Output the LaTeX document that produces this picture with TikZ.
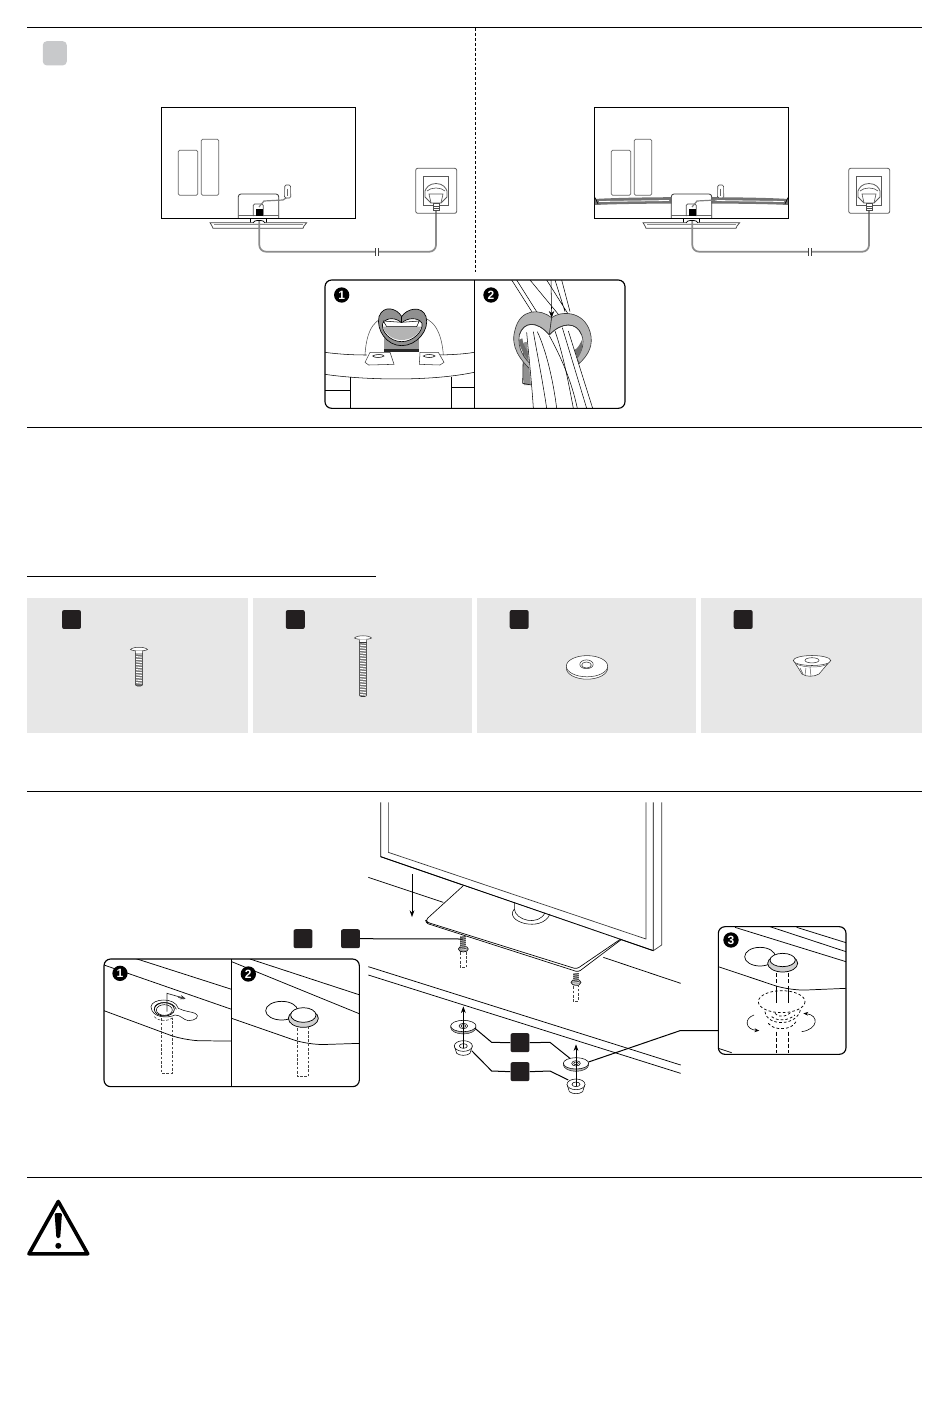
\documentclass[tikz,border=0pt]{standalone}
\usepackage{fontspec}
\setmainfont{Liberation Sans}
\usetikzlibrary{arrows.meta}
\definecolor{panelgray}{HTML}{E7E7E7}
\definecolor{softgray}{HTML}{C8C9CB}
\definecolor{darksq}{HTML}{231F20}
\definecolor{cablegray}{HTML}{8C8C8C}
\definecolor{midgray}{HTML}{B4B4B4}
\definecolor{darkgray2}{HTML}{6E6E6E}
\tikzset{
  rulebar/.style={line width=0.8pt,black},
  thin1/.style={line width=0.55pt,black},
  thin2/.style={line width=0.4pt,black},
  graythin/.style={line width=0.55pt,black!60},
  cable/.style={line width=1.3pt,cablegray,rounded corners=5pt},
  numdot/.style={circle,fill=black,text=white,inner sep=0pt,minimum size=11.5pt,font=\bfseries\fontsize{9}{9}\selectfont},
  darkbox/.style={fill=darksq,rounded corners=1.5pt,inner sep=0pt,minimum width=14.2pt,minimum height=14.2pt},
  lead/.style={line width=0.75pt,black},
  smallarrow/.style={line width=0.55pt,-{Stealth[length=5pt,width=3.6pt]}},
  dashedline/.style={line width=0.45pt,black!75,dash pattern=on 2pt off 1.2pt},
}
\newcommand{\tvrear}[1]{%
  \draw[line width=0.9pt] (161.5,107.5) rectangle (355.5,218.5);
  \draw[graythin,rounded corners=1pt] (178.3,150.3) rectangle (197.7,195.3);
  \draw[graythin,rounded corners=1pt] (201.3,139.3) rectangle (218.7,195.3);
  #1
  \draw[line width=0.6pt,black!80,fill=white,rounded corners=2pt] (238.3,218.5) -- (238.3,194) -- (278.7,194) -- (278.7,218.5);
  \draw[line width=0.5pt,black!60] (238.3,215.5) -- (278.7,215.5);
  \draw[line width=0.5pt,black!70,rounded corners=1pt] (253.3,216) -- (253.3,204) -- (263.3,204) -- (263.3,216);
  \fill[black] (255.5,208.5) rectangle (262.5,215.7);
  \draw[line width=0.9pt,black!50] (259,207) -- (264,201) -- (283,200) -- (287.5,197);
  \draw[line width=0.45pt,black!70,fill=white,rounded corners=1pt] (284.5,198) -- (284.8,185) -- (290.5,185) -- (290.8,198) -- cycle;
  \draw[line width=1pt,black!60] (287.5,188.5) -- (287.5,196);
  \draw[line width=0.9pt] (238.3,218.5) -- (278.7,218.5);
  \draw[thin1] (250,218.7) -- (250,222.5) (266.7,218.7) -- (266.7,222.5);
  \draw[thin1,black!75,fill=white] (210,222.7) -- (306.7,222.7) -- (304,226) -- (303,228.3) -- (213,228.3) -- (212,226) -- cycle;
  \draw[line width=1.3pt,black!45] (214,224.6) -- (303,224.6);
  \draw[thin1,fill=white] (253,222.8) arc[start angle=180,end angle=360,x radius=6,y radius=2.4];
  \draw[cable] (259.3,221) -- (259.3,251.7) -- (436,251.7) -- (436,208);
  \fill[white] (375.6,247) rectangle (377.8,256);
  \draw[line width=0.4pt,black!75] (375.6,248) -- (375.6,256) (377.8,248) -- (377.8,256);
  \draw[line width=0.6pt,black!65,rounded corners=1.5pt] (415.7,168.3) rectangle (456.7,213.3);
  \draw[line width=0.6pt,black!65] (423.3,176) rectangle (448.3,205.3);
  \draw[line width=0.6pt,black!65,fill=white] (436,183.5) .. controls (443,183.5) and (446,188) .. (447,191) -- (447,197) -- (441,203) -- (431,203) -- (425,197) -- (425,191) .. controls (426,188) and (429,183.5) .. (436,183.5) -- cycle;
  \draw[line width=0.5pt,black!65] (427,191) .. controls (431,187) and (441,187) .. (445,191) (431,203) -- (429,194) -- (443,194) -- (441,203);
  \draw[line width=0.6pt,black!70,fill=white] (433,203) rectangle (439,210);
  \draw[line width=0.4pt,black!70] (433,206) -- (439,206) (433,208) -- (439,208);
}
\newcommand{\bolt}[3]{%
  \draw[line width=0.4pt,black!80,fill=black!55,rounded corners=1.5pt] (#1-3.7,#2+5) rectangle (#1+3.7,#3);
  \foreach \yy in {0,1,...,40}{\pgfmathsetmacro\ty{#2+7+\yy*2.6}\pgfmathparse{\ty<(#3-1.5)?1:0}\ifnum\pgfmathresult=1 \draw[line width=0.8pt,white] (#1-2.8,\ty) -- (#1+2.8,\ty+0.6);\fi}
  \draw[line width=0.4pt,black!80,fill=white] (#1-8.5,#2+2.5) .. controls (#1-6,#2-0.5) and (#1+6,#2-0.5) .. (#1+8.5,#2+2.5) .. controls (#1+6,#2+4.4) and (#1-6,#2+4.4) .. (#1-8.5,#2+2.5) -- cycle;
  \draw[line width=0.4pt,black!80,fill=white] (#1-3.8,#2+3.8) -- (#1-3.5,#2+7) -- (#1+3.5,#2+7) -- (#1+3.8,#2+3.8);
}
\newcommand{\fwasher}[2]{%
  \fill[midgray,draw=black,line width=0.3pt] (#1,#2+4) ellipse[x radius=38,y radius=20];
  \draw[thin2,black,fill=white] (#1,#2) ellipse[x radius=38,y radius=17];
  \draw[thin2,fill=white] (#1,#2) ellipse[x radius=13,y radius=8];
  \draw[thin2] (#1,#2) ellipse[x radius=7,y radius=4];
}
\newcommand{\fnut}[2]{%
  \draw[thin2,fill=white] (#1-27,#2-5) -- (#1-20,#2+17) .. controls (#1-10,#2+25) and (#1+10,#2+25) .. (#1+20,#2+17) -- (#1+27,#2-5) -- cycle;
  \draw[thin2,fill=white] (#1,#2-5) ellipse[x radius=27,y radius=16];
  \draw[thin2] (#1,#2-5) ellipse[x radius=12,y radius=7];
}
\newcommand{\threaded}[3]{%
  \fill[black!80] (#1-9,#2) rectangle (#1+9,#3);
  \draw[thin2,black,fill=black!40] (#1,#3-10) ellipse[x radius=15,y radius=9];
  \fill[black!80] (#1-9,#2) rectangle (#1+9,#3-10);
  \foreach \k in {0,1,...,6}{\draw[white,line width=0.5pt] (#1-9,#2+3+\k*6) -- (#1+9,#2+5+\k*6);}
}
\begin{document}
\begin{tikzpicture}[x=0.75pt,y=-0.75pt]
\useasboundingbox (0,0) rectangle (950,1403);
\fill[white] (0,0) rectangle (950,1403);

\draw[rulebar] (27,27.5) -- (922,27.5);
\draw[rulebar] (27,427.5) -- (922,427.5);
\draw[rulebar] (27,791.5) -- (922,791.5);
\draw[rulebar] (27,1177.6) -- (922,1177.6);
\draw[rulebar] (27,576.3) -- (376,576.3);
\draw[line width=0.8pt,dash pattern=on 2.2pt off 1.5pt] (475.2,28) -- (475.2,272);

\node[fill=softgray,rounded corners=3pt,inner sep=0pt,minimum width=18pt,minimum height=18.2pt] (tag) at (54.8,53.3) {};

\tvrear{}
\begin{scope}[shift={(433,0)}]
\tvrear{%
  \fill[black!55] (161.9,199) .. controls (200,196.5) and (320,196.5) .. (355.1,199) -- (355.1,205) .. controls (320,203) and (200,203) .. (161.9,205) -- cycle;
  \draw[white,line width=0.6pt] (166,201.5) -- (236,200.5) (282,200.5) -- (351,201.5);
  \draw[black,line width=0.5pt] (162,197.5) -- (165,204) (355,197.5) -- (352,204);
}
\end{scope}

% cable-clip inset
\begin{scope}[shift={(320,275)},x=0.25pt,y=-0.25pt]
\begin{scope}
\clip[rounded corners=5pt] (15,15) rectangle (915,400);
\draw[thin2] (15,232) .. controls (60,238) and (100,240) .. (140,240);
\draw[thin2] (340,240) .. controls (380,240) and (430,238) .. (462,232);
\draw[thin2] (15,298) .. controls (130,315) and (330,320) .. (462,292);
\draw[thin2] (90,305) -- (90,400) (395,306) -- (395,400);
\draw[thin2] (15,347) -- (90,347) (395,337) -- (462,337);
\draw[thin2,black!70] (135,240) .. controls (138,190) and (150,135) .. (200,125);
\draw[thin2,black!70] (290,125) .. controls (340,125) and (365,170) .. (370,240);
\draw[thin2,black!80,fill=white] (150,232) -- (210,232) -- (222,268) -- (146,270) -- (135,262) -- cycle;
\draw[thin2,black!80,fill=white] (300,232) -- (355,232) -- (372,262) -- (360,270) -- (298,268) -- cycle;
\draw[thin2] (158,243) .. controls (165,237) and (190,237) .. (192,243) .. controls (185,249) and (162,249) .. (158,243) -- cycle;
\draw[thin2] (310,243) .. controls (315,237) and (340,237) .. (345,243) .. controls (340,249) and (315,249) .. (310,243) -- cycle;
\fill[midgray!85!black] (193,180) rectangle (297,222);
\fill[black!85] (193,222) rectangle (297,232);
\draw[line width=0.5pt,black,fill=midgray!80!black] (245,125) .. controls (232,100) and (190,88) .. (177,125) .. controls (168,165) and (200,212) .. (245,212) .. controls (290,212) and (330,165) .. (318,125) .. controls (306,90) and (260,100) .. (245,125) -- cycle;
\draw[line width=0.5pt,black,fill=white] (245,145) .. controls (232,128) and (200,125) .. (188,145) .. controls (182,168) and (210,200) .. (245,200) .. controls (280,200) and (310,168) .. (306,145) .. controls (295,125) and (258,128) .. (245,145) -- cycle;
\fill[midgray] (245,142) -- (290,155) -- (303,155) .. controls (300,175) and (275,195) .. (245,195) .. controls (215,195) and (195,175) .. (188,155) -- (200,155) -- cycle;
\draw[thin2,fill=white] (190,138) -- (245,142) -- (298,138) -- (290,155) -- (200,155) -- cycle;
\draw[line width=0.5pt] (245,125) -- (245,145);

% panel 2 behind
\fill[midgray!80!black] (610,205) .. controls (612,198) and (630,200) .. (640,210) -- (645,330) -- (612,330) .. controls (607,325) and (610,250) .. (610,205);
\draw[thin2] (610,215) -- (608,325) -- (645,332);
% rear strands above ring
\draw[thin2,black] (575,15) -- (645,125) (590,15) -- (655,118) (630,15) -- (725,130) (680,15) -- (745,118) (705,15) -- (735,110) (725,15) -- (750,110);
% ring left
\draw[line width=0.45pt,black!80,fill=midgray] (695,128) .. controls (660,100) and (600,100) .. (585,165) .. controls (570,215) and (600,255) .. (640,292) -- (640,275) .. controls (610,250) and (592,220) .. (598,180) .. controls (610,140) and (650,135) .. (688,180) -- cycle;
\fill[darkgray2] (596,195) .. controls (600,225) and (620,250) .. (640,272) -- (643,245) .. controls (625,235) and (610,215) .. (607,190) -- cycle;
% ring right
\draw[line width=0.45pt,black!80,fill=midgray] (695,128) .. controls (720,108) and (790,105) .. (810,170) .. controls (822,210) and (805,240) .. (778,265) -- (770,250) .. controls (785,230) and (795,205) .. (785,180) .. controls (770,140) and (725,140) .. (688,180) -- cycle;
\fill[darkgray2] (786,195) .. controls (790,215) and (782,240) .. (772,250) -- (763,225) .. controls (775,220) and (780,205) .. (786,195) -- cycle;
% strands in front
\fill[white] (618,172) .. controls (640,160) and (670,170) .. (688,180) .. controls (705,165) and (725,150) .. (745,168) -- (820,402) -- (640,402) -- cycle;
\draw[thin2] (620,172) .. controls (625,230) and (635,320) .. (640,400);
\draw[thin2] (640,170) .. controls (650,230) and (665,300) .. (680,400);
\draw[thin2] (652,170) .. controls (680,230) and (700,320) .. (710,400);
\draw[thin2] (688,182) .. controls (725,250) and (755,320) .. (772,400);
\draw[thin2] (705,168) .. controls (730,240) and (745,320) .. (760,400);
\draw[thin2] (745,168) -- (818,400);
\draw[thin2] (727,158) -- (800,400);
\draw[line width=0.45pt,black!80] (688,180) .. controls (650,135) and (610,140) .. (598,180);
\draw[line width=0.45pt,black!80] (688,180) .. controls (725,140) and (770,140) .. (785,180);
\draw[line width=0.4pt,-{Stealth[length=5pt,width=4pt]}] (693,15) -- (695,128);
\end{scope}
\draw[line width=0.75pt] (463,15) -- (463,400);
\draw[line width=0.85pt,rounded corners=5pt] (15,15) rectangle (915,400);
\node[numdot] (c1a) at (65,60) {1};
\node[numdot] (c2a) at (513,60) {2};
\end{scope}

% parts panels
\foreach \xa/\xb/\xs/\nm in {27/248/71.5/pa,253/472/295.3/pb,477/696/519.2/pc,701/922/743.2/pd}{
  \fill[panelgray] (\xa,598) rectangle (\xb,733);
  \node[darkbox] (\nm) at (\xs,619.5) {};
}
\bolt{139}{647}{686}
\bolt{363}{635.5}{696.5}
\draw[line width=0.4pt,black!80,fill=white] (587,668) ellipse[x radius=20.7,y radius=11.2];
\draw[line width=0.4pt,black!80,fill=white] (587,666.2) ellipse[x radius=20.7,y radius=10.6];
\draw[line width=0.4pt,black!80] (586.5,664.3) ellipse[x radius=6.7,y radius=4.4];
\draw[line width=0.4pt,black!80] (586.5,665) ellipse[x radius=4.8,y radius=3];
\draw[line width=0.4pt,black!80,fill=white] (793.5,660.5) -- (802,674) .. controls (806,677) and (814,677) .. (819,674) -- (830.5,660.5) -- cycle;
\draw[line width=0.35pt,black!70] (796,664) .. controls (805,668) and (820,668) .. (828,664) (806,668) -- (805,675) (810,667) -- (811,676) (800,668) -- (803,674);
\draw[line width=0.4pt,black!80,fill=white] (812,660.5) ellipse[x radius=18.7,y radius=5];
\draw[line width=0.4pt,black!80] (812,660.3) ellipse[x radius=7,y radius=2.6];

% stand assembly
\begin{scope}[shift={(360,795)},x=0.25pt,y=-0.25pt]
\draw[thin1] (25,247) -- (250,322) (730,487) -- (962,565);
\draw[thin1] (25,515) -- (962,810) (25,540) -- (962,835);
\draw[line width=0.6pt] (62,22) -- (62,185) -- (880,467) -- (880,22);
\draw[line width=0.5pt,black!80] (85,22) -- (85,172) -- (858,432) -- (858,22);
\draw[line width=0.5pt,black!80] (905,22) -- (905,450) -- (880,467);
\fill[white] (310,272) -- (196,376) -- (200,390) -- (652,531) -- (782,432) -- cycle;
\draw[line width=0.5pt,rounded corners=2pt] (310,272) -- (197,375) -- (202,382) -- (650,522) -- (782,432);
\draw[line width=0.5pt,rounded corners=2pt] (197,375) -- (197,384) -- (655,531) -- (782,435);
\draw[thin1] (62,185) -- (880,467);
\draw[thin2] (463,322) -- (463,342) .. controls (430,380) and (545,415) .. (570,357);
\draw[thin2] (463,342) .. controls (465,375) and (535,395) .. (555,353);
\draw[line width=0.5pt,-{Stealth[length=5pt,width=3.6pt]}] (156,238) -- (156,366);
\threaded{310}{422}{472}
\threaded{648}{533}{572}
\draw[dashedline] (301,472) -- (301,518) -- (318,518) -- (318,472);
\draw[dashedline] (639,574) -- (639,618) -- (656,618) -- (656,574);
\fnut{310}{758}
\fnut{648}{873}
\fwasher{310}{693}
\fwasher{648}{805}
\draw[smallarrow] (310,760) -- (310,634);
\draw[smallarrow] (648,872) -- (648,748);
\node[darkbox] (qa) at (480,743) {};
\node[darkbox] (qb) at (480,830) {};
\coordinate (wa) at (345,700);
\coordinate (wb) at (630,790);
\coordinate (na) at (335,767);
\coordinate (nb) at (625,855);
\draw[lead] (wa) -- (395,742) -- (qa.west);
\draw[lead] (qa.east) -- (570,742) -- (wb);
\draw[lead] (na) -- (395,828) -- (qb.west);
\draw[lead] (qb.east) -- (570,828) -- (nb);
\end{scope}

\node[darkbox] (qc) at (303,938.7) {};
\node[darkbox] (qd) at (350.5,938.7) {};
\coordinate (screwpt) at (462.5,939);
\draw[lead] (qd.east) -- (screwpt);

% insets 1 and 2
\begin{scope}[shift={(95,950)},x=0.25pt,y=-0.25pt]
\begin{scope}
\clip[rounded corners=5pt] (27,27) rectangle (793,410);
\draw[thin1] (120,25) -- (410,118) (27,45) -- (410,178);
\draw[thin1,rounded corners=12pt] (27,182) -- (270,272) -- (410,273);
\draw[thin1] (465,27) -- (795,135) (410,35) -- (795,192);
\draw[thin1,rounded corners=12pt] (410,205) -- (640,285) -- (795,280);
\draw[dashedline] (200,205) -- (200,370) -- (232,370) -- (232,205);
\draw[thin2,fill=white] (168,170) .. controls (170,145) and (240,140) .. (250,175) .. controls (270,185) and (290,185) .. (300,190) .. controls (318,200) and (300,212) .. (280,212) .. controls (265,210) and (258,195) .. (240,195) .. controls (220,205) and (170,205) .. (168,170) -- cycle;
\draw[thin2] (178,175) .. controls (180,152) and (235,150) .. (244,178);
\draw[dashedline] (178,200) .. controls (190,215) and (225,215) .. (235,200);
\draw[thin1,fill=white] (208,178) ellipse[x radius=30,y radius=20];
\draw[thin2] (208,180) ellipse[x radius=24,y radius=16];
\draw[line width=0.5pt,black!85,-{Stealth[length=4pt,width=3.2pt]}] (216,185) -- (216,130) -- (272,146);
\draw[line width=1.1pt,black!70] (250,141) -- (268,146);
\draw[dashedline] (607,235) -- (607,380) -- (640,380) -- (640,232);
\draw[thin1] (560,182) ellipse[x radius=48,y radius=28];
\draw[thin1,fill=black!18] (625,205) ellipse[x radius=45,y radius=27];
\draw[thin1,fill=white] (625,195) ellipse[x radius=38,y radius=22];
\end{scope}
\draw[line width=0.75pt] (410,27) -- (410,410);
\draw[line width=0.85pt,rounded corners=5pt] (27,27) rectangle (793,410);
\node[numdot] (c1b) at (75,70) {1};
\node[numdot] (c2b) at (460,72) {2};
\end{scope}

% inset 3
\begin{scope}[shift={(670,920)},x=0.25pt,y=-0.25pt]
\begin{scope}
\clip[rounded corners=5pt] (145,20) rectangle (528,403);
\draw[thin1] (195,22) -- (528,125) (300,20) -- (528,95) (380,22) -- (528,68);
\draw[thin1,rounded corners=12pt] (145,140) -- (360,212) -- (528,205);
\draw[thin1] (145,385) -- (185,398);
\draw[thin1] (270,110) ellipse[x radius=46,y radius=28];
\draw[line width=0.55pt,dash pattern=on 3pt off 1.6pt] (320,160) -- (320,205) (355,160) -- (355,240);
\draw[line width=0.55pt,dash pattern=on 3pt off 1.6pt] (320,335) -- (320,400) (355,335) -- (355,400);
\draw[thin1] (320,205) -- (320,250) (355,205) -- (355,250);
\draw[line width=0.55pt,dash pattern=on 2pt off 1.6pt] (335,245) ellipse[x radius=70,y radius=33];
\draw[line width=0.55pt,dash pattern=on 2pt off 1.6pt] (285,275) .. controls (290,320) and (385,320) .. (392,265);
\draw[line width=0.55pt,dash pattern=on 2pt off 1.6pt] (295,310) .. controls (310,332) and (365,332) .. (378,305);
\draw[line width=0.55pt,dash pattern=on 2pt off 1.6pt] (315,280) .. controls (330,295) and (350,290) .. (365,275);
\draw[line width=0.55pt,dash pattern=on 2pt off 1.6pt] (305,290) .. controls (325,305) and (355,302) .. (375,285);
\draw[thin1,fill=black!18] (338,130) ellipse[x radius=45,y radius=26];
\draw[thin1,fill=white] (338,120) ellipse[x radius=38,y radius=20];
\draw[line width=0.45pt,-{Stealth[length=3.6pt,width=2.8pt]}] (252,285) .. controls (222,295) and (225,328) .. (268,332);
\draw[line width=0.45pt,-{Stealth[length=3.6pt,width=2.8pt]}] (395,335) .. controls (445,328) and (448,285) .. (400,280);
\end{scope}
\draw[line width=0.85pt,rounded corners=5pt] (145,20) rectangle (528,403);
\node[numdot] (c3) at (183,60) {3};
\coordinate (insetedge) at (145,332);
\coordinate (elbow) at (30,332);
\end{scope}
\coordinate (washerpt) at (588.5,1062);
\draw[lead] (washerpt) -- (elbow) -- (insetedge);

% warning triangle
\draw[line width=2.7pt,line join=round] (58.3,1201.5) -- (87.7,1253.8) -- (29,1253.8) -- cycle;
\fill[black,rounded corners=1pt] (54.6,1213) -- (62,1213) -- (60.2,1238) -- (56.4,1238) -- cycle;
\fill[black] (58.3,1245.8) circle[radius=3];
\end{tikzpicture}
\end{document}
